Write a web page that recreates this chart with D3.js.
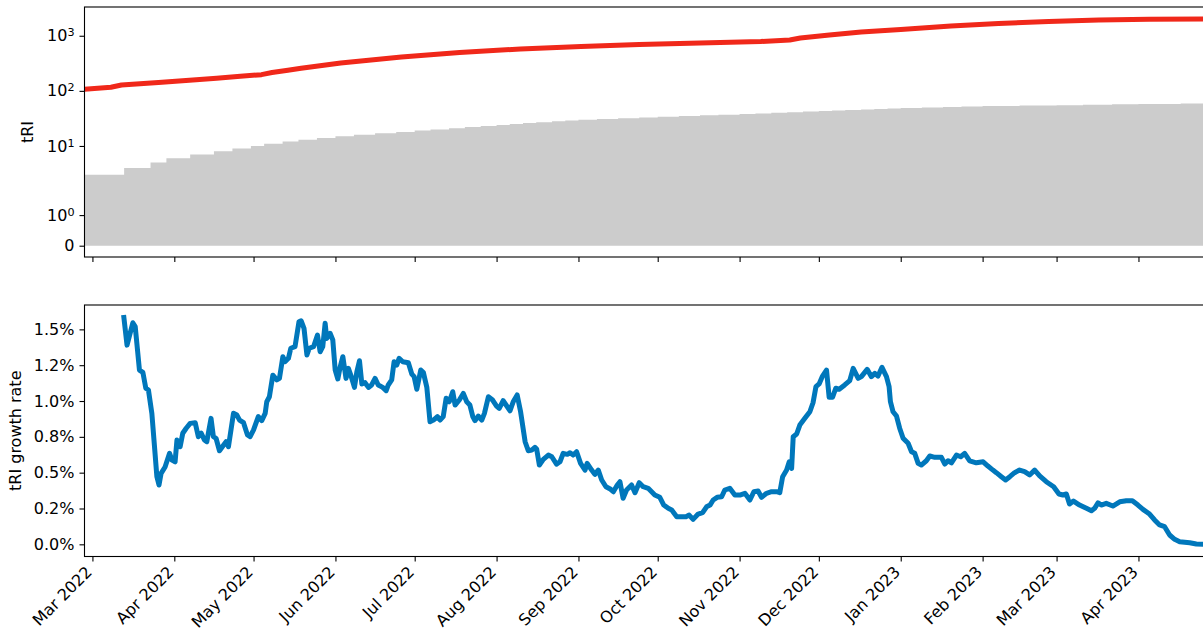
<!DOCTYPE html>
<html>
<head>
<meta charset="utf-8">
<script src="https://cdn.jsdelivr.net/npm/d3@7"></script>
<style>
  body { margin: 0; background: #fff; }
  svg { display: block; font-family: "DejaVu Sans", sans-serif; }
</style>
</head>
<body>
<svg id="chart" width="1203" height="629"></svg>
<script>
// All day offsets below are counted from this date (UTC).
const origin = "2022-03-01";

// Cumulative tRI (red line)
const totalDay   = [-3, 7, 11, 25, 38, 47, 56, 64, 68, 74, 79, 94, 117, 139, 162, 185, 207, 230, 253, 264, 268, 279, 291, 306, 325, 343, 362, 381, 400, 421];
const totalValue = [107, 116, 128, 142, 157, 169, 184, 197, 215, 237, 257, 321, 412, 497, 575, 638, 695, 740, 787, 838, 912, 1033, 1170, 1300, 1503, 1671, 1816, 1932, 2000, 2013];

// Stepped background count (grey area): day of each change and the new level
const countDay   = [-3, 12, 22, 28, 37, 46, 53, 60, 65, 72, 78, 85, 92, 99, 107, 115, 122, 128, 135, 141, 147, 153, 158, 163, 168, 174, 179, 184, 191, 199, 207, 214,
                    222, 230, 237, 245, 251, 257, 263, 269, 275, 280, 285, 291, 296, 301, 306, 314, 322, 329, 337, 351, 365, 375, 386, 396, 412];
const countValue = [3, 4, 5, 6, 7, 8, 9, 10, 11, 12, 13, 14, 15, 16, 17, 18, 19, 20, 21, 22, 23, 24, 25, 26, 27, 28, 29, 30, 31, 32, 33, 34,
                    35, 36, 37, 38, 39, 40, 41, 42, 43, 44, 45, 46, 47, 48, 49, 50, 51, 52, 53, 54, 55, 56, 57, 58, 59];

// Daily tRI growth rate, in percent (blue line)
const growthDay = [11.8,13.1,15.3,16.2,17.8,19.1,20.2,21.2,22.5,23.4,
  24.4,25.2,26.0,27.5,29.2,30.1,31.3,32.0,33.2,34.2,
  35.5,37.0,38.9,40.1,41.2,42.4,43.3,44.9,45.8,46.8,
  48.1,49.4,50.6,51.5,53.4,54.7,55.7,57.2,58.7,59.7,
  61.0,62.8,64.1,65.4,66.0,67.0,68.3,69.8,70.8,72.1,
  72.9,74.2,75.1,76.7,78.2,79.0,80.1,81.2,82.1,83.7,
  85.2,86.2,87.2,88.1,88.7,90.0,91.0,91.9,92.9,93.8,
  94.8,96.0,96.9,97.8,99.2,100.1,101.1,102.0,103.2,104.5,
  105.7,107.0,108.2,109.9,111.2,112.0,113.3,114.2,115.2,116.1,
  117.5,119.6,120.9,121.8,122.8,124.3,125.3,126.6,127.8,129.1,
  130.6,131.6,132.8,133.9,135.1,136.4,137.3,138.9,140.4,141.7,
  142.9,144.0,144.8,146.1,147.4,148.4,149.9,151.5,153.0,154.0,
  155.5,158.1,159.3,160.8,162.1,163.8,165.0,166.3,167.5,168.2,
  169.2,170.7,172.6,173.9,175.7,177.0,178.2,179.8,180.8,182.0,
  183.3,184.8,186.5,187.3,189.0,190.2,191.5,192.8,194.4,196.2,
  197.2,198.7,199.7,200.9,202.2,204.1,205.4,207.0,208.5,210.4,
  211.7,212.9,214.8,216.3,218.0,219.3,221.2,223.0,224.7,225.9,
  227.4,229.3,231.0,232.5,233.8,235.0,236.5,238.2,239.4,241.3,
  243.2,245.1,247.0,248.9,250.4,252.0,253.3,255.2,257.1,259.0,
  260.2,261.3,262.8,263.8,264.7,265.3,266.6,267.8,269.7,271.6,
  272.8,273.9,275.1,276.4,277.9,278.9,280.2,281.4,282.7,284.8,
  286.7,288.0,289.9,291.1,293.3,294.9,296.2,297.4,298.9,300.6,
  301.6,302.1,303.1,304.4,305.6,306.9,308.8,310.1,311.3,312.6,
  313.8,315.7,317.0,318.9,321.4,322.7,323.9,325.2,327.1,328.7,
  330.2,332.1,334.6,337.2,339.0,340.9,342.2,344.1,345.7,347.3,
  349.1,351.0,352.9,354.8,356.7,358.6,361.1,363.9,365.9,367.4,
  368.7,369.9,371.4,373.7,376.3,378.2,379.4,380.7,381.9,383.8,
  386.3,388.9,391.4,393.7,395.8,397.7,400.2,402.1,404.0,405.9,
  407.8,409.7,411.6,415.4,417.9,421.0];
const growthRate = [1.60,1.39,1.546,1.52,1.216,1.20,1.09,1.077,0.914,0.705,
  0.472,0.414,0.495,0.54,0.635,0.588,0.576,0.728,0.681,0.775,
  0.81,0.844,0.849,0.751,0.775,0.728,0.716,0.879,0.751,0.740,
  0.653,0.686,0.716,0.681,0.914,0.902,0.867,0.849,0.763,0.751,
  0.798,0.891,0.863,0.914,0.995,1.03,1.18,1.147,1.158,1.309,
  1.274,1.298,1.368,1.379,1.553,1.56,1.507,1.321,1.368,1.379,
  1.46,1.344,1.379,1.542,1.437,1.472,1.426,1.216,1.154,1.239,
  1.309,1.158,1.228,1.181,1.095,1.204,1.281,1.119,1.128,1.095,
  1.112,1.158,1.112,1.095,1.072,1.112,1.147,1.274,1.251,1.298,
  1.274,1.267,1.188,1.17,1.082,1.216,1.198,1.095,0.856,0.867,
  0.891,0.867,0.891,1.019,0.995,1.065,0.972,1.007,1.053,0.995,
  0.972,0.891,0.863,0.895,0.867,0.914,1.03,1.007,0.965,0.949,
  1.002,0.932,0.995,1.042,0.925,0.716,0.653,0.658,0.677,0.663,
  0.553,0.593,0.623,0.611,0.56,0.576,0.635,0.628,0.639,0.623,
  0.646,0.565,0.518,0.565,0.518,0.488,0.518,0.449,0.402,0.384,
  0.367,0.414,0.437,0.321,0.379,0.414,0.36,0.43,0.402,0.391,
  0.367,0.344,0.328,0.274,0.251,0.239,0.193,0.193,0.193,0.204,
  0.174,0.211,0.221,0.262,0.274,0.309,0.328,0.332,0.379,0.391,
  0.344,0.344,0.356,0.309,0.367,0.372,0.328,0.356,0.367,0.367,
  0.36,0.472,0.518,0.576,0.53,0.751,0.77,0.832,0.879,0.925,
  0.988,1.1,1.119,1.174,1.216,1.026,1.026,1.089,1.082,1.112,
  1.142,1.228,1.158,1.17,1.221,1.17,1.193,1.174,1.235,1.17,
  1.1,0.995,0.925,0.895,0.81,0.74,0.705,0.646,0.635,0.565,
  0.553,0.583,0.616,0.607,0.607,0.56,0.583,0.569,0.623,0.611,
  0.635,0.583,0.569,0.576,0.546,0.518,0.5,0.472,0.449,0.472,
  0.5,0.518,0.507,0.484,0.518,0.477,0.437,0.402,0.351,0.344,
  0.351,0.281,0.302,0.274,0.251,0.234,0.251,0.29,0.274,0.286,
  0.267,0.297,0.304,0.304,0.274,0.244,0.211,0.17,0.135,0.123,
  0.065,0.035,0.018,0.011,0.002,0.0];

// Axis ticks
const monthTicks = ["2022-03-01","2022-04-01","2022-05-01","2022-06-01","2022-07-01","2022-08-01",
  "2022-09-01","2022-10-01","2022-11-01","2022-12-01","2023-01-01","2023-02-01","2023-03-01","2023-04-01"];
const topTicks = [0, 1, 10, 100, 1000];
const topTickExponents = [null, "0", "1", "2", "3"];
const rateTicks = [0, 0.25, 0.5, 0.75, 1.0, 1.25, 1.5];
const rateTickLabels = ["0.0%", "0.2%", "0.5%", "0.8%", "1.0%", "1.2%", "1.5%"];

// ---------------------------------------------------------------------------
const svg = d3.select("#chart");
const FONT = 16;
const FAMILY = "DejaVu Sans, sans-serif";
const panel = { left: 84.5, right: 1204.5, top1: 7, bottom1: 257, top2: 305, bottom2: 556.5 };

const day0 = d3.utcParse("%Y-%m-%d")(origin);
const toDate = d => new Date(day0.getTime() + d * 864e5);
const parse = d3.utcParse("%Y-%m-%d");

const x = d3.scaleUtc()
  .domain([toDate(-3), toDate(421)])
  .range([panel.left, panel.right]);

// Symmetric-log transform: linear below 2, logarithmic above (one decade per unit)
const LIN = 2, LINSCALE = 1 / (1 - 1 / 10);
const symT = v => v <= LIN ? (v / LIN) * LINSCALE : LINSCALE + Math.log10(v / LIN);
const yT = d3.scaleLinear().domain([-0.205, 4.332]).range([panel.bottom1, panel.top1]);
const yTop = v => yT(symT(v));

const yB = d3.scaleLinear().domain([-0.085, 1.670]).range([panel.bottom2, panel.top2]);

// clip regions
const defs = svg.append("defs");
defs.append("clipPath").attr("id", "clipTop").append("rect")
  .attr("x", panel.left).attr("y", panel.top1)
  .attr("width", panel.right - panel.left).attr("height", panel.bottom1 - panel.top1);
defs.append("clipPath").attr("id", "clipBottom").append("rect")
  .attr("x", panel.left).attr("y", panel.top2)
  .attr("width", panel.right - panel.left).attr("height", panel.bottom2 - panel.top2);

// ---- top panel: grey step area + red cumulative line
const countData = d3.zip(countDay, countValue).map(([d, v]) => ({ date: toDate(d), v }));
countData.push({ date: toDate(430), v: countValue[countValue.length - 1] });
const area = d3.area()
  .curve(d3.curveStepAfter)
  .x(d => x(d.date))
  .y0(yTop(0))
  .y1(d => yTop(d.v));

const gTop = svg.append("g").attr("clip-path", "url(#clipTop)");
gTop.append("path").datum(countData)
  .attr("d", area)
  .attr("fill", "#cccccc");

const totalData = d3.zip(totalDay, totalValue).map(([d, v]) => ({ date: toDate(d), v }));
gTop.append("path").datum(totalData)
  .attr("d", d3.line().x(d => x(d.date)).y(d => yTop(d.v)))
  .attr("fill", "none")
  .attr("stroke", "#f0281a")
  .attr("stroke-width", 5)
  .attr("stroke-linejoin", "round");

// ---- bottom panel: blue growth-rate line
const growthData = d3.zip(growthDay, growthRate).map(([d, v]) => ({ date: toDate(d), v }));
svg.append("g").attr("clip-path", "url(#clipBottom)")
  .append("path").datum(growthData)
  .attr("d", d3.line().x(d => x(d.date)).y(d => yB(d.v)))
  .attr("fill", "none")
  .attr("stroke", "#0077bb")
  .attr("stroke-width", 5)
  .attr("stroke-linejoin", "round");

// ---- axes
function styleAxis(g) {
  g.attr("font-family", FAMILY).attr("font-size", FONT);
  g.select(".domain").remove();
  g.selectAll(".tick line").attr("stroke", "#000").attr("stroke-width", 1.1);
  g.selectAll(".tick text").attr("fill", "#000");
}
const monthDates = monthTicks.map(parse);

// top panel x ticks (no labels)
svg.append("g")
  .attr("transform", `translate(0,${panel.bottom1})`)
  .call(d3.axisBottom(x).tickValues(monthDates).tickFormat("").tickSize(5).tickSizeOuter(0))
  .call(styleAxis);

// bottom panel x ticks with rotated month labels
svg.append("g")
  .attr("transform", `translate(0,${panel.bottom2})`)
  .call(d3.axisBottom(x).tickValues(monthDates).tickFormat(d3.utcFormat("%b %Y")).tickSize(5).tickSizeOuter(0))
  .call(styleAxis)
  .call(g => g.selectAll(".tick text")
    .attr("x", 0).attr("y", 0).attr("dy", 0)
    .attr("text-anchor", "end")
    .attr("transform", "translate(0,16.5) rotate(-45)"));

// top panel y axis (symlog ticks with superscript exponents)
svg.append("g")
  .attr("transform", `translate(${panel.left},0)`)
  .call(d3.axisLeft(yT).tickValues(topTicks.map(symT)).tickFormat("").tickSize(5).tickPadding(5).tickSizeOuter(0))
  .call(styleAxis)
  .call(g => g.selectAll(".tick text").each(function (d, i) {
    const t = d3.select(this);
    if (topTickExponents[i] === null) {
      t.text(String(topTicks[i]));
    } else {
      t.text("10");
      t.append("tspan")
        .attr("dy", "-0.45em")
        .attr("font-size", FONT * 0.7)
        .text(topTickExponents[i]);
    }
  }));

// bottom panel y axis
svg.append("g")
  .attr("transform", `translate(${panel.left},0)`)
  .call(d3.axisLeft(yB).tickValues(rateTicks).tickFormat((d, i) => rateTickLabels[i]).tickSize(5).tickPadding(5).tickSizeOuter(0))
  .call(styleAxis);

// ---- spines
[[panel.top1, panel.bottom1], [panel.top2, panel.bottom2]].forEach(([t, b]) => {
  svg.append("rect")
    .attr("x", panel.left).attr("y", t)
    .attr("width", panel.right - panel.left).attr("height", b - t)
    .attr("fill", "none").attr("stroke", "#000").attr("stroke-width", 1.1);
});

// ---- axis titles
svg.append("text")
  .attr("transform", `translate(33,${(panel.top1 + panel.bottom1) / 2}) rotate(-90)`)
  .attr("text-anchor", "middle")
  .attr("font-family", FAMILY)
  .attr("font-size", FONT)
  .text("tRI");
svg.append("text")
  .attr("transform", `translate(21,${(panel.top2 + panel.bottom2) / 2}) rotate(-90)`)
  .attr("text-anchor", "middle")
  .attr("font-family", FAMILY)
  .attr("font-size", FONT)
  .text("tRI growth rate");
</script>
</body>
</html>
